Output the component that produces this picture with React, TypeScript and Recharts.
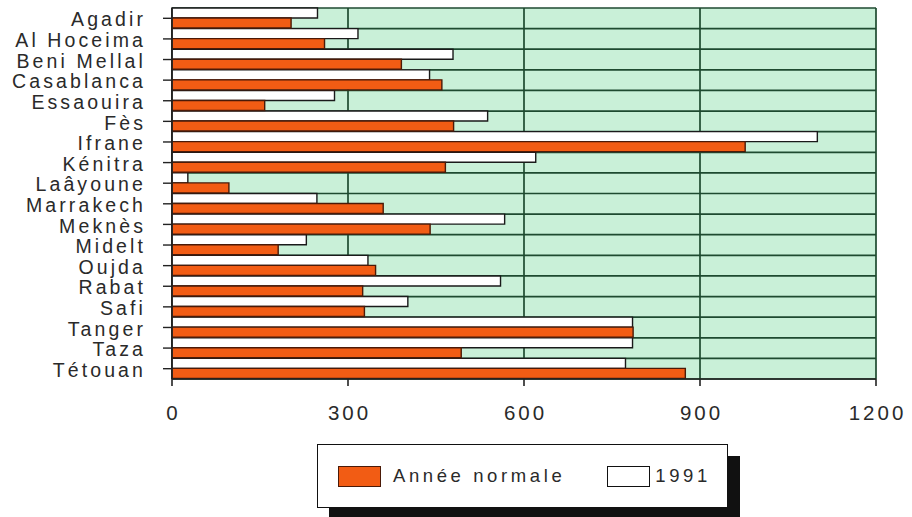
import { BarChart, Bar, XAxis, YAxis, CartesianGrid } from 'recharts'

const CITIES = [
  'Agadir', 'Al Hoceima', 'Beni Mellal', 'Casablanca', 'Essaouira', 'Fès',
  'Ifrane', 'Kénitra', 'Laâyoune', 'Marrakech', 'Meknès', 'Midelt',
  'Oujda', 'Rabat', 'Safi', 'Tanger', 'Taza', 'Tétouan',
]
const NORMAL = [203, 260, 391, 460, 158, 480, 977, 466, 97, 360, 440, 181, 347, 325, 328, 786, 493, 875]
const Y1991 = [248, 317, 479, 439, 277, 538, 1100, 620, 27, 247, 567, 229, 334, 560, 402, 785, 785, 773]
const X_TICKS = [0, 300, 600, 900, 1200]

const data = CITIES.map((city, i) => ({ city, normal: NORMAL[i], y1991: Y1991[i] }))

const FONT = '"Liberation Sans", Arial, Helvetica, sans-serif'
const GRID = '#1e4a30'
const ORANGE = '#f25c14'

function CityTick({ x, y, payload }: any) {
  return (
    <text x={x} y={y} dy="0.42em" textAnchor="end" fontFamily={FONT} fontSize={19.5}
      fill="#2a2a2a" style={{ letterSpacing: 3.1 }}>
      {payload.value}
    </text>
  )
}

function ValueTick({ x, y, payload }: any) {
  return (
    <text x={x + 1.5} y={y} dy="0.71em" textAnchor="middle" fontFamily={FONT} fontSize={20.5}
      fill="#2a2a2a" style={{ letterSpacing: 3 }}>
      {payload.value}
    </text>
  )
}

function LegendBox() {
  const item = { display: 'flex', alignItems: 'center' } as const
  return (
    <div style={{
      position: 'absolute', left: 317, top: 444, width: 411, height: 64,
      background: '#fff', border: '1.5px solid #111', boxShadow: '12px 12px 0 #111',
      fontFamily: FONT, fontSize: 18.5, color: '#2a2a2a', letterSpacing: 3.6,
      display: 'flex', alignItems: 'center', boxSizing: 'border-box',
    }}>
      <div style={{ ...item, marginLeft: 20 }}>
        <span style={{ width: 43, height: 21, background: ORANGE, border: '1.5px solid #4a1a08', boxSizing: 'border-box', marginRight: 12 }} />
        Année normale
      </div>
      <div style={{ ...item, marginLeft: 42 }}>
        <span style={{ width: 43, height: 21, background: '#fff', border: '1.5px solid #111', boxSizing: 'border-box', marginRight: 5 }} />
        1991
      </div>
    </div>
  )
}

export default function App() {
  const n = CITIES.length
  return (
    <div style={{ position: 'absolute', left: 0, top: 0, width: 912, height: 517, background: '#fff' }}>
      <BarChart
        width={912}
        height={517}
        data={data}
        layout="vertical"
        margin={{ top: 8, right: 36, bottom: 98, left: 0 }}
        barCategoryGap={0}
        barGap={0}
      >
        <CartesianGrid
          fill="#c9f0d8"
          fillOpacity={1}
          stroke={GRID}
          strokeWidth={1.7}
          horizontalCoordinatesGenerator={({ offset }: any) =>
            Array.from({ length: n + 1 }, (_, i) => offset.top + (i * offset.height) / n)
          }
        />
        <XAxis
          type="number"
          domain={[0, 1200]}
          ticks={X_TICKS}
          height={40}
          tickSize={7}
          tickMargin={19}
          axisLine={{ stroke: '#222', strokeWidth: 1.6 }}
          tickLine={{ stroke: '#222', strokeWidth: 1.6 }}
          tick={<ValueTick />}
        />
        <YAxis
          type="category"
          dataKey="city"
          width={172}
          interval={0}
          tickSize={9}
          tickMargin={17}
          axisLine={{ stroke: '#222', strokeWidth: 1.6 }}
          tickLine={{ stroke: '#222', strokeWidth: 1.4 }}
          tick={<CityTick />}
        />
        <Bar dataKey="y1991" fill="#ffffff" stroke="#1a1a1a" strokeWidth={1.4} isAnimationActive={false} />
        <Bar dataKey="normal" fill={ORANGE} stroke="#4a1a08" strokeWidth={1.4} isAnimationActive={false} />
      </BarChart>
      <LegendBox />
    </div>
  )
}
